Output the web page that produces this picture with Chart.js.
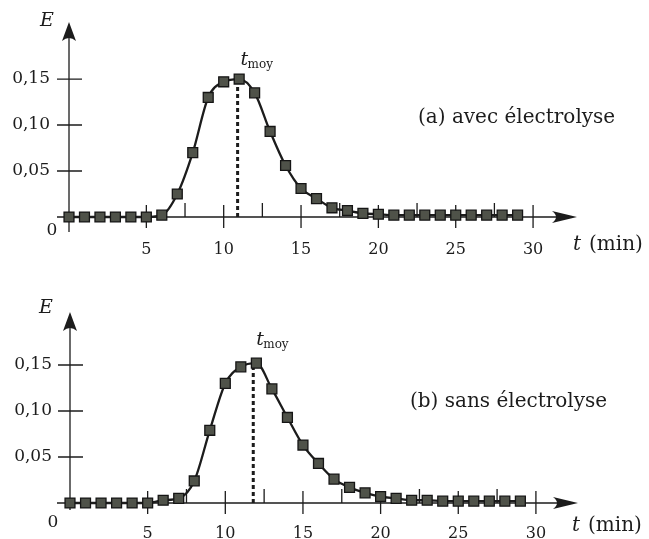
<!DOCTYPE html>
<html>
<head>
<meta charset="utf-8">
<script src="https://cdn.jsdelivr.net/npm/chart.js@4"></script>
<style>
  html, body { margin: 0; padding: 0; background: #fff; }
  .box { position: relative; width: 649px; }
  canvas { display: block; }
</style>
</head>
<body>
<div class="box" style="height:270px"><canvas id="chart_a"></canvas></div>
<div class="box" style="height:269px"><canvas id="chart_b"></canvas></div>
<script>
// time in minutes, one reading per minute
const times = [0, 1, 2, 3, 4, 5, 6, 7, 8, 9, 10, 11, 12, 13, 14, 15, 16, 17, 18, 19, 20, 21, 22, 23, 24, 25, 26, 27, 28, 29];
// (a) avec électrolyse
const e_avec = [0, 0, 0, 0, 0, 0, 0.002, 0.025, 0.070, 0.130, 0.147, 0.150, 0.135, 0.093, 0.056, 0.031, 0.020, 0.010, 0.007, 0.004, 0.003, 0.002, 0.002, 0.002, 0.002, 0.002, 0.002, 0.002, 0.002, 0.002];
// (b) sans électrolyse
const e_sans = [0, 0, 0, 0, 0, 0, 0.003, 0.005, 0.024, 0.079, 0.130, 0.148, 0.152, 0.124, 0.093, 0.063, 0.043, 0.026, 0.017, 0.011, 0.007, 0.005, 0.003, 0.003, 0.002, 0.002, 0.002, 0.002, 0.002, 0.002];
const x_ticks = [5, 10, 15, 20, 25, 30];
const x_minor = [7.5, 12.5, 17.5, 22.5, 27.5];
const y_ticks = [0.05, 0.10, 0.15];
const t_moy_avec = 10.9;
const t_moy_sans = 11.8;

const SERIF = '"DejaVu Serif", serif';
const INK = '#1c1c1c';

const axesPlugin = {
  id: 'axes',
  beforeDatasetsDraw(chart, args, o) {
    const { ctx, chartArea: a, scales: { x, y } } = chart;
    const x0 = x.getPixelForValue(0), y0 = y.getPixelForValue(0);
    ctx.save();
    ctx.strokeStyle = INK;
    ctx.fillStyle = INK;
    ctx.lineWidth = 1.3;
    ctx.beginPath();
    ctx.moveTo(a.left, y0); ctx.lineTo(a.right - 12, y0);
    ctx.moveTo(x0, a.bottom); ctx.lineTo(x0, a.top + 12);
    x_ticks.forEach(v => {
      const px = x.getPixelForValue(v);
      ctx.moveTo(px, y0 - 12); ctx.lineTo(px, y0 + 11);
    });
    x_minor.forEach(v => {
      const px = x.getPixelForValue(v);
      ctx.moveTo(px, y0 - 14); ctx.lineTo(px, y0);
    });
    y_ticks.forEach(v => {
      const py = y.getPixelForValue(v);
      ctx.moveTo(x0 - 12, py); ctx.lineTo(x0 + 13, py);
    });
    ctx.stroke();

    // arrow heads
    ctx.beginPath();
    ctx.moveTo(x0, a.top);
    ctx.lineTo(x0 + 7, a.top + 19);
    ctx.quadraticCurveTo(x0, a.top + 13, x0 - 7, a.top + 19);
    ctx.closePath();
    ctx.fill();
    ctx.beginPath();
    ctx.moveTo(a.right, y0);
    ctx.lineTo(a.right - 25, y0 - 6);
    ctx.quadraticCurveTo(a.right - 17, y0, a.right - 25, y0 + 6);
    ctx.closePath();
    ctx.fill();

    // dashed t_moy
    const tx = x.getPixelForValue(o.tMoy);
    ctx.setLineDash([4, 3]);
    ctx.lineWidth = 3;
    ctx.beginPath();
    ctx.moveTo(tx, y0);
    ctx.lineTo(tx, y.getPixelForValue(o.tMoyTop));
    ctx.stroke();
    ctx.restore();
  },
  afterDraw(chart, args, o) {
    const { ctx, scales: { x, y } } = chart;
    const x0 = x.getPixelForValue(0), y0 = y.getPixelForValue(0);
    ctx.save();
    ctx.fillStyle = INK;
    ctx.textBaseline = 'middle';
    ctx.textAlign = 'left';

    ctx.font = 'italic 19px ' + SERIF;
    ctx.fillText('E', o.eX, o.eY);

    ctx.font = '17px ' + SERIF;
    ctx.textAlign = 'center';
    ctx.fillText('0', x0 - 17, y0 + o.zeroDy);

    // t_moy label
    ctx.textAlign = 'left';
    const tx = x.getPixelForValue(o.tMoy);
    ctx.font = 'italic 19px ' + SERIF;
    ctx.fillText('t', tx + 3, o.tLabelY);
    ctx.font = '12px ' + SERIF;
    ctx.fillText('moy', tx + 10, o.tLabelY + 5);

    // axis name
    ctx.font = 'italic 20px ' + SERIF;
    ctx.fillText('t', o.axX, o.axY);
    ctx.font = '20px ' + SERIF;
    ctx.fillText('(min)', o.axX + 16, o.axY);

    ctx.font = '20px ' + SERIF;
    ctx.fillText(o.caption, o.capX, o.capY);
    ctx.restore();
  }
};

function makeChart(id, values, lay, axes) {
  return new Chart(document.getElementById(id), {
    type: 'line',
    data: {
      datasets: [{
        data: times.map((t, i) => ({ x: t, y: values[i] })),
        borderColor: INK,
        borderWidth: 2.3,
        cubicInterpolationMode: 'monotone',
        pointStyle: 'rect',
        pointRadius: 7,
        pointBackgroundColor: '#4f5249',
        pointBorderColor: '#151515',
        pointBorderWidth: 1.3,
        fill: false
      }]
    },
    plugins: [axesPlugin],
    options: {
      responsive: true,
      maintainAspectRatio: false,
      animation: false,
      layout: { padding: { top: lay.top, right: lay.right, bottom: 0, left: 0 } },
      plugins: {
        legend: { display: false },
        tooltip: { enabled: false },
        axes: axes
      },
      scales: {
        x: {
          type: 'linear',
          min: lay.xmin,
          max: lay.xmax,
          grid: { display: false, drawTicks: false },
          border: { display: false },
          afterBuildTicks: s => { s.ticks = x_ticks.map(v => ({ value: v })); },
          afterFit: s => { s.height = lay.xh; },
          ticks: { padding: lay.xpad, color: INK, font: { family: SERIF, size: 16 }, maxRotation: 0, callback: v => String(v) }
        },
        y: {
          type: 'linear',
          min: lay.ymin,
          max: lay.ymax,
          grid: { display: false, drawTicks: false },
          border: { display: false },
          afterBuildTicks: s => { s.ticks = y_ticks.map(v => ({ value: v })); },
          afterFit: s => { s.width = lay.yw; },
          ticks: { padding: lay.ypad, color: INK, font: { family: SERIF, size: 17 }, callback: v => v.toFixed(2).replace('.', ',') }
        }
      }
    }
  });
}

makeChart('chart_a', e_avec,
  { top: 22, right: 72, xh: 38, yw: 57, xmin: -0.776, xmax: 32.84, ymin: -0.0163, ymax: 0.212, xpad: 8, ypad: 7 },
  { tMoy: t_moy_avec, tMoyTop: 0.150, eX: 40, eY: 21, zeroDy: 14, tLabelY: 60,
    axX: 573, axY: 245, caption: '(a) avec électrolyse', capX: 418, capY: 118 });

makeChart('chart_b', e_sans,
  { top: 42, right: 71, xh: 29, yw: 57, xmin: -0.837, xmax: 32.71, ymin: -0.0076, ymax: 0.2076, xpad: 14, ypad: 5 },
  { tMoy: t_moy_sans, tMoyTop: 0.148, eX: 39, eY: 38, zeroDy: 20, tLabelY: 70,
    axX: 572, axY: 256, caption: '(b) sans électrolyse', capX: 410, capY: 132 });
</script>
</body>
</html>
